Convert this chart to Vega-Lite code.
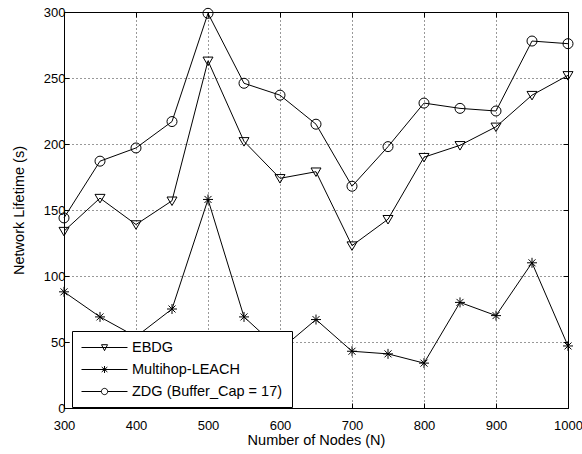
{
  "$schema": "https://vega.github.io/schema/vega-lite/v6.json",
  "width": 504,
  "height": 396,
  "autosize": {"type": "none"},
  "padding": {"left": 64, "top": 12, "right": 14, "bottom": 46},
  "background": "white",
  "config": {
    "view": {"stroke": "black", "strokeWidth": 1},
    "font": "Liberation Sans",
    "axis": {
      "domain": false,
      "tickSize": -5,
      "tickColor": "black",
      "labelColor": "black",
      "labelFlush": false,
      "labelFont": "Liberation Sans",
      "labelFontSize": 13,
      "titleFont": "Liberation Sans",
      "titleFontSize": 14.5,
      "titleFontWeight": "normal",
      "titleColor": "black",
      "gridColor": "black",
      "gridDash": [1, 3],
      "gridOpacity": 0.8
    }
  },
  "data": {
    "values": [
      {"n": 300, "series": "EBDG", "v": 134},
      {"n": 350, "series": "EBDG", "v": 159},
      {"n": 400, "series": "EBDG", "v": 139},
      {"n": 450, "series": "EBDG", "v": 157},
      {"n": 500, "series": "EBDG", "v": 263},
      {"n": 550, "series": "EBDG", "v": 202},
      {"n": 600, "series": "EBDG", "v": 174},
      {"n": 650, "series": "EBDG", "v": 179},
      {"n": 700, "series": "EBDG", "v": 123},
      {"n": 750, "series": "EBDG", "v": 143},
      {"n": 800, "series": "EBDG", "v": 190},
      {"n": 850, "series": "EBDG", "v": 199},
      {"n": 900, "series": "EBDG", "v": 213},
      {"n": 950, "series": "EBDG", "v": 237},
      {"n": 1000, "series": "EBDG", "v": 252},
      {"n": 300, "series": "Multihop-LEACH", "v": 88},
      {"n": 350, "series": "Multihop-LEACH", "v": 69},
      {"n": 400, "series": "Multihop-LEACH", "v": 54},
      {"n": 450, "series": "Multihop-LEACH", "v": 75},
      {"n": 500, "series": "Multihop-LEACH", "v": 158},
      {"n": 550, "series": "Multihop-LEACH", "v": 69},
      {"n": 600, "series": "Multihop-LEACH", "v": 44},
      {"n": 650, "series": "Multihop-LEACH", "v": 67},
      {"n": 700, "series": "Multihop-LEACH", "v": 43},
      {"n": 750, "series": "Multihop-LEACH", "v": 41},
      {"n": 800, "series": "Multihop-LEACH", "v": 34},
      {"n": 850, "series": "Multihop-LEACH", "v": 80},
      {"n": 900, "series": "Multihop-LEACH", "v": 70},
      {"n": 950, "series": "Multihop-LEACH", "v": 110},
      {"n": 1000, "series": "Multihop-LEACH", "v": 47},
      {"n": 300, "series": "ZDG (Buffer_Cap = 17)", "v": 144},
      {"n": 350, "series": "ZDG (Buffer_Cap = 17)", "v": 187},
      {"n": 400, "series": "ZDG (Buffer_Cap = 17)", "v": 197},
      {"n": 450, "series": "ZDG (Buffer_Cap = 17)", "v": 217},
      {"n": 500, "series": "ZDG (Buffer_Cap = 17)", "v": 299},
      {"n": 550, "series": "ZDG (Buffer_Cap = 17)", "v": 246},
      {"n": 600, "series": "ZDG (Buffer_Cap = 17)", "v": 237},
      {"n": 650, "series": "ZDG (Buffer_Cap = 17)", "v": 215},
      {"n": 700, "series": "ZDG (Buffer_Cap = 17)", "v": 168},
      {"n": 750, "series": "ZDG (Buffer_Cap = 17)", "v": 198},
      {"n": 800, "series": "ZDG (Buffer_Cap = 17)", "v": 231},
      {"n": 850, "series": "ZDG (Buffer_Cap = 17)", "v": 227},
      {"n": 900, "series": "ZDG (Buffer_Cap = 17)", "v": 225},
      {"n": 950, "series": "ZDG (Buffer_Cap = 17)", "v": 278},
      {"n": 1000, "series": "ZDG (Buffer_Cap = 17)", "v": 276}
    ]
  },
  "layer": [
    {
      "mark": {"type": "line", "color": "black", "strokeWidth": 1},
      "encoding": {
        "x": {
          "field": "n", "type": "quantitative",
          "scale": {"domain": [300, 1000], "nice": false, "zero": false},
          "axis": {"orient": "bottom", "values": [300, 400, 500, 600, 700, 800, 900, 1000], "format": "d", "title": "Number of Nodes (N)", "labelPadding": 16, "titlePadding": 1}
        },
        "y": {
          "field": "v", "type": "quantitative",
          "scale": {"domain": [0, 300], "nice": false},
          "axis": {"orient": "left", "values": [0, 50, 100, 150, 200, 250, 300], "title": "Network Lifetime (s)", "labelPadding": 4, "titlePadding": 17}
        },
        "detail": {"field": "series"}
      }
    },
    {
      "mark": {"type": "point", "filled": false, "stroke": "black", "strokeWidth": 1, "size": 100, "opacity": 1},
      "encoding": {
        "x": {
          "field": "n", "type": "quantitative",
          "axis": {"orient": "top", "values": [300, 400, 500, 600, 700, 800, 900, 1000], "labels": false, "grid": false, "title": null}
        },
        "y": {
          "field": "v", "type": "quantitative",
          "axis": {"orient": "right", "values": [0, 50, 100, 150, 200, 250, 300], "labels": false, "grid": false, "title": null}
        },
        "shape": {
          "field": "series", "type": "nominal",
          "scale": {
            "domain": ["EBDG", "Multihop-LEACH", "ZDG (Buffer_Cap = 17)"],
            "range": ["M-1,-0.75L1,-0.75L0,0.95Z", "M-1,0L1,0M0,-1L0,1M-0.7,-0.7L0.7,0.7M-0.7,0.7L0.7,-0.7", "circle"]
          },
          "legend": null
        }
      }
    },
    {
      "mark": {"type": "point", "filled": false, "stroke": "black", "strokeWidth": 1, "size": 196, "opacity": 0},
      "encoding": {
        "x": {"field": "n", "type": "quantitative", "axis": null},
        "y": {"field": "v", "type": "quantitative", "axis": null},
        "shape": {
          "field": "series", "type": "nominal",
          "scale": {
            "domain": ["EBDG", "Multihop-LEACH", "ZDG (Buffer_Cap = 17)"],
            "range": [
              "M-1,0L5.57,0M1.86,-0.4L2.72,-0.4L2.29,0.45Z",
              "M-1,0L5.57,0M2.29,-0.5L2.29,0.5M1.89,-0.35L2.69,0.35M1.89,0.35L2.69,-0.35",
              "M-1,0L1.84,0M2.74,0L5.57,0M1.84,0A0.45,0.45,0,1,1,2.74,0A0.45,0.45,0,1,1,1.84,0"
            ]
          },
          "legend": {
            "title": null,
            "orient": "none",
            "legendX": 8,
            "legendY": 319,
            "fillColor": "white",
            "strokeColor": "black",
            "padding": 9,
            "rowPadding": 7,
            "symbolSize": 196,
            "symbolOpacity": 1,
            "symbolStrokeColor": "black",
            "symbolFillColor": "transparent",
            "symbolStrokeWidth": 1,
            "labelOffset": 36,
            "labelFont": "Liberation Sans",
            "labelFontSize": 14.5,
            "labelColor": "black"
          }
        }
      }
    }
  ],
  "resolve": {"axis": {"x": "independent", "y": "independent"}, "scale": {"shape": "independent"}}
}
